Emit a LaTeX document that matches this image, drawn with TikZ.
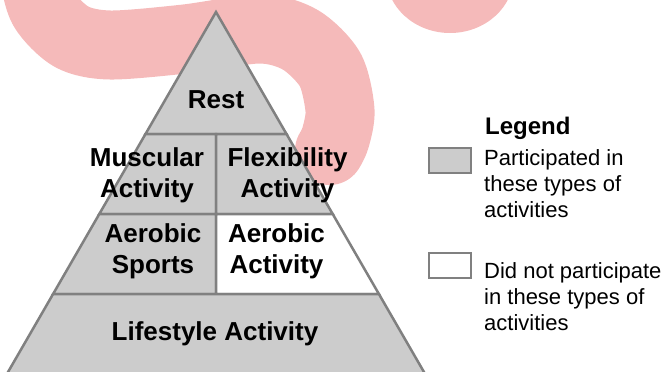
\documentclass[tikz,border=0pt]{standalone}
\usepackage{fontspec}
\setmainfont{Liberation Sans}
\definecolor{bandpink}{RGB}{245,186,186}
\definecolor{cellgray}{RGB}{204,204,204}
\definecolor{edgegray}{RGB}{128,128,128}
\tikzset{
  cell/.style={fill=cellgray, draw=edgegray, line width=2.5pt, line join=miter},
  whitecell/.style={cell, fill=white},
  lbl/.style={inner sep=0pt, anchor=base, align=center, font=\fontsize{26}{30.5}\selectfont\bfseries},
  legtitle/.style={inner sep=0pt, anchor=base west, font=\fontsize{24}{28}\selectfont\bfseries},
  legtext/.style={inner sep=0pt, anchor=base west, align=left, font=\fontsize{22}{26.2}\selectfont},
  legbox/.style={draw=edgegray, line width=2pt, minimum width=42pt, minimum height=25pt, inner sep=0pt},
  band/.style={draw=bandpink, line width=69pt, line cap=round, line join=round}
}
\begin{document}
\begin{tikzpicture}[x=1pt, y=-1pt]
\useasboundingbox (0,0) rectangle (664,372);
\clip (0,0) rectangle (664,372);
% background brush strokes
\draw[band] plot[smooth] coordinates {(33,-45) (33,-30) (43.3,8.5) (71.5,36.7) (110,45) (185,39) (260,29) (300.5,39.9) (330.1,69.5) (340,110) (335.5,137.7) (329.5,150.5)};
\fill[bandpink] (450,-25) ellipse[x radius=64pt, y radius=58pt];
% pyramid
\path[cell] (216,12) -- (286.5,134) -- (145.5,134) -- cycle;
\path[cell] (145.5,134) -- (216,134) -- (216,214) -- (99.3,214) -- cycle;
\path[cell] (216,134) -- (286.5,134) -- (332.7,214) -- (216,214) -- cycle;
\path[cell] (99.3,214) -- (216,214) -- (216,294) -- (53.1,294) -- cycle;
\path[whitecell] (216,214) -- (332.7,214) -- (378.9,294) -- (216,294) -- cycle;
\path[cell] (53.1,294) -- (378.9,294) -- (425.7,375) -- (6.3,375) -- cycle;
% labels (base anchor = baseline of last line)
\node[lbl] (rest) at (216,108) {Rest};
\node[lbl] (musc) at (147,197.2) {Muscular\\Activity};
\node[lbl] (flex) at (287.5,197.2) {Flexibility\\Activity};
\node[lbl] (asport) at (153,273) {Aerobic\\Sports};
\node[lbl] (aact) at (276.5,273) {Aerobic\\Activity};
\node[lbl] (life) at (215,340) {Lifestyle Activity};
% legend
\node[legtitle] (legend) at (485,134) {Legend};
\node[legbox, fill=cellgray] (boxa) at (449.5,160) {};
\node[legtext] (texta) at (484,217.4) {Participated in\\these types of\\activities};
\node[legbox, fill=white] (boxb) at (449.5,265.5) {};
\node[legtext] (textb) at (484,330.4) {Did not participate\\in these types of\\activities};
\end{tikzpicture}
\end{document}
